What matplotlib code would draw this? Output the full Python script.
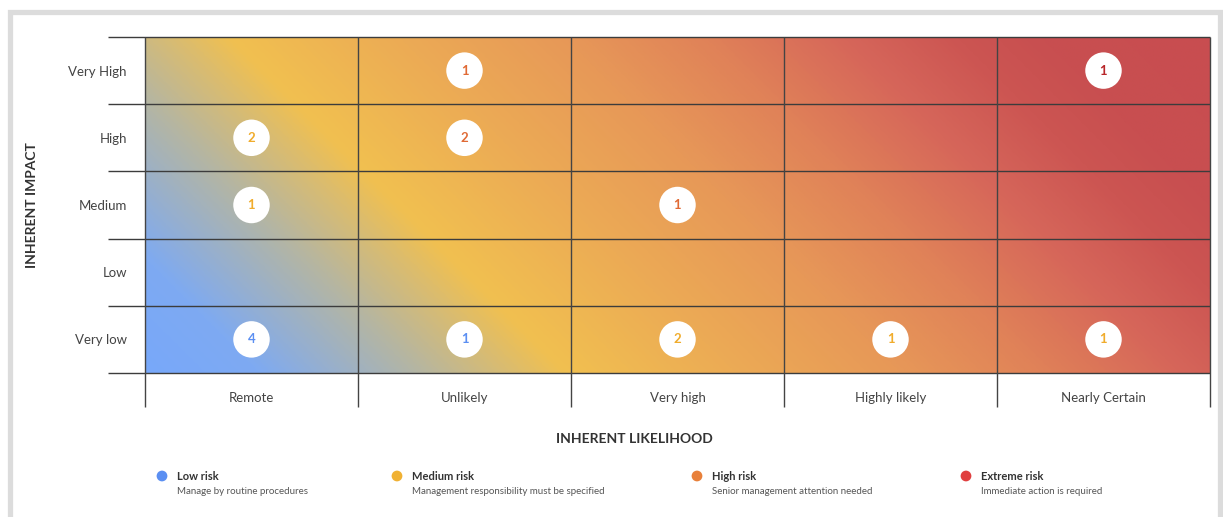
import numpy as np
import matplotlib
matplotlib.use("Agg")
import matplotlib.pyplot as plt
from matplotlib.colors import LinearSegmentedColormap
from matplotlib.patches import Rectangle

# ---- data ----
likelihood = ["Remote", "Unlikely", "Very high", "Highly likely", "Nearly Certain"]
impact = ["Very low", "Low", "Medium", "High", "Very High"]
# risk points: likelihood index, impact index, count, risk level
pt_likelihood = [0, 0, 0, 1, 1, 1, 2, 2, 3, 4, 4]
pt_impact     = [3, 2, 0, 4, 3, 0, 2, 0, 0, 4, 0]
pt_count      = [2, 1, 4, 1, 2, 1, 1, 2, 1, 1, 1]
pt_level      = ["Medium", "Medium", "Low", "High", "High", "Low", "High",
                 "Medium", "Medium", "Extreme", "Medium"]
levels = ["Low", "Medium", "High", "Extreme"]
level_titles = ["Low risk", "Medium risk", "High risk", "Extreme risk"]
level_desc = ["Manage by routine procedures",
              "Management responsibility must be specified",
              "Senior management attention needed",
              "Immediate action is required"]
level_text_colors = {"Low": "#5b8ff2", "Medium": "#f0ac2c", "High": "#e06a35", "Extreme": "#b8262a"}
legend_dot_colors = ["#5b8ff2", "#f0b133", "#e8803a", "#e04040"]

W, H = 1223, 517
fig = plt.figure(figsize=(W / 100, H / 100), dpi=100)
plt.rcParams['font.family'] = ['Lato', 'DejaVu Sans']

def fx(px):
    return px / W

def fy(py):
    return 1 - py / H

# outer light frame
fig.patches.append(Rectangle((fx(10), fy(560)), fx(1220) - fx(10), fy(12) - fy(560),
                             transform=fig.transFigure, fill=False,
                             edgecolor="#dcdcdc", linewidth=3.8, zorder=0))

L, R, T, B = 145, 1210, 37, 373
ax = fig.add_axes([fx(L), fy(B), fx(R) - fx(L), fy(T) - fy(B)])
nx, ny = len(likelihood), len(impact)
ax.set_xlim(0, nx)
ax.set_ylim(0, ny)

# gradient background (45 degree, bottom-left blue -> top-right red)
gx = np.linspace(0, R - L, 800)
gy = np.linspace(0, B - T, 300)
GX, GY = np.meshgrid(gx, gy)
tt = (GX + GY) / ((R - L) + (B - T))
cmap = LinearSegmentedColormap.from_list("risk", [
    (0.0, "#78a8fa"), (0.08, "#7eaaf2"), (0.19, "#b2b5a6"), (0.30, "#f1c050"),
    (0.42, "#ecab55"), (0.54, "#e79858"), (0.64, "#e08258"), (0.74, "#d6665a"),
    (0.82, "#cc5552"), (0.88, "#c84f50"), (1.0, "#c84d50")])
ax.imshow(tt, origin="lower", extent=[0, nx, 0, ny], aspect="auto", cmap=cmap,
          vmin=0, vmax=1, zorder=0, interpolation="bilinear")

# grid lines extending beyond the axes
xext = (108 - L) / ((R - L) / nx)
yext = (B - 407) / ((B - T) / ny)
for i in range(ny + 1):
    ax.hlines(i, xext, nx, colors="#3c3c3c", linewidth=1.0, clip_on=False, zorder=2)
for j in range(nx + 1):
    ax.vlines(j, yext, ny, colors="#444444", linewidth=1.0, clip_on=False, zorder=2)

for s in ax.spines.values():
    s.set_visible(False)

ax.set_xticks(np.arange(nx) + 0.5)
ax.set_xticklabels(likelihood, fontsize=9.5, color="#444444")
ax.set_yticks(np.arange(ny) + 0.5)
ax.set_yticklabels(impact, fontsize=9.5, color="#444444")
ax.tick_params(axis="both", length=0)
ax.tick_params(axis="x", pad=14)
ax.tick_params(axis="y", pad=13)

# risk circles
xs = np.array(pt_likelihood) + 0.5
ys = np.array(pt_impact) + 0.5
ax.scatter(xs, ys, s=690, color="white", edgecolors="none", zorder=3)
for x, y, c, lv in zip(xs, ys, pt_count, pt_level):
    ax.text(x, y, str(c), ha="center", va="center", fontsize=9.5, fontweight="bold",
            color=level_text_colors[lv], zorder=4)

# axis titles
fig.text(fx(32), fy(205), "INHERENT IMPACT", rotation=90, ha="center", va="center",
         fontsize=10, fontweight="bold", color="#333333")
fig.text(fx(634), fy(439), "INHERENT LIKELIHOOD", ha="center", va="center",
         fontsize=10, fontweight="bold", color="#333333")

# legend
dot_x = [162, 397, 697, 966]
for i in range(len(levels)):
    fig.text(fx(dot_x[i] + 15), fy(477), level_titles[i], ha="left", va="center",
             fontsize=8, fontweight="bold", color="#333333")
    fig.text(fx(dot_x[i] + 15), fy(491), level_desc[i], ha="left", va="center",
             fontsize=7, color="#555555")
lax = fig.add_axes([0, 0, 1, 1], facecolor="none")
lax.set_xlim(0, W)
lax.set_ylim(H, 0)
lax.axis("off")
lax.scatter(dot_x, [476] * 4, s=60, color=legend_dot_colors, edgecolors="none")

fig.savefig("out.png", dpi=100, facecolor="white")
